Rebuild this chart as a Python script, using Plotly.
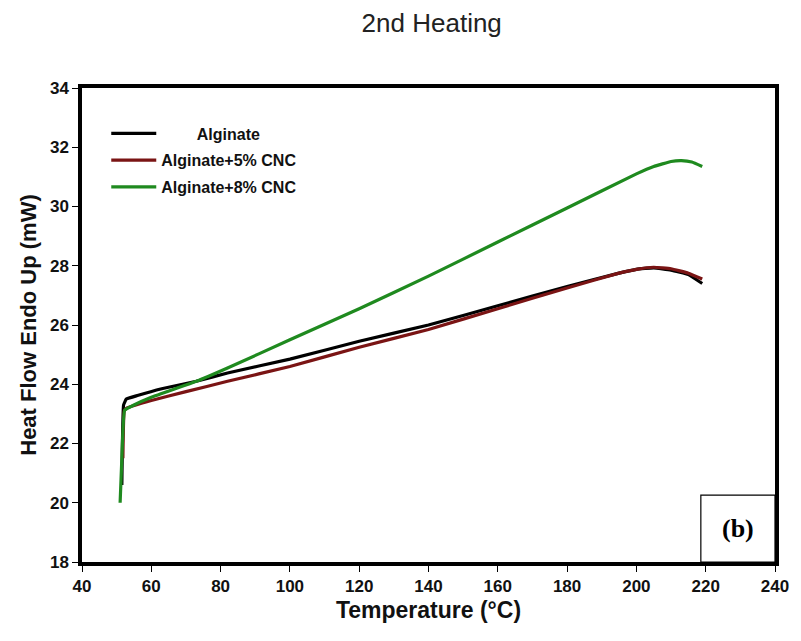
import plotly.graph_objects as go

# ---- data ----
alg_x = [51.5, 52.0, 52.8, 56, 63, 73, 82, 100, 120, 140, 160, 180, 195, 200, 205, 210, 215, 219]
alg_y = [20.6, 23.3, 23.5, 23.62, 23.85, 24.1, 24.38, 24.85, 25.45, 26.0, 26.65, 27.3, 27.75, 27.88, 27.93, 27.85, 27.7, 27.4]

cnc5_x = [51.8, 52.2, 53, 60, 70, 82, 100, 120, 140, 160, 180, 195, 200, 205, 210, 215, 219]
cnc5_y = [21.5, 23.1, 23.2, 23.45, 23.75, 24.1, 24.6, 25.25, 25.85, 26.55, 27.25, 27.75, 27.88, 27.95, 27.9, 27.75, 27.55]

cnc8_x = [51.0, 51.5, 52.3, 55, 60, 73, 82, 100, 120, 140, 160, 180, 200, 205, 210, 213, 216, 219]
cnc8_y = [20.0, 21.5, 23.12, 23.3, 23.56, 24.1, 24.55, 25.5, 26.55, 27.65, 28.8, 29.95, 31.1, 31.35, 31.52, 31.55, 31.5, 31.35]

series_names = ["\u00a0" * 8 + "Alginate", "Alginate+5% CNC", "Alginate+8% CNC"]
series_colors = ["#000000", "#7a1414", "#1f8a1f"]

x_ticks = [40, 60, 80, 100, 120, 140, 160, 180, 200, 220, 240]
y_ticks = [18, 20, 22, 24, 26, 28, 30, 32, 34]

fig = go.Figure()
for i, (xs, ys) in enumerate([(alg_x, alg_y), (cnc5_x, cnc5_y), (cnc8_x, cnc8_y)]):
    fig.add_trace(go.Scatter(
        x=xs, y=ys, mode="lines", name=series_names[i],
        line=dict(color=series_colors[i], width=3.2, shape="spline", smoothing=0.3),
        legendgroup=f"g{i}",
    ))

axis_font = dict(family="Liberation Sans, Arial", size=17, color="#111111", weight="bold")

fig.update_layout(
    width=801, height=641,
    margin=dict(l=82, r=19, t=88, b=79),
    paper_bgcolor="white", plot_bgcolor="white",
    title=dict(text="2nd Heating", x=0.539, xanchor="center", y=0.965, yanchor="middle",
               font=dict(family="Liberation Sans, Arial", size=26, color="#222222")),
    showlegend=True,
    legend=dict(x=0.035, y=0.94, xanchor="left", yanchor="top", bgcolor="rgba(0,0,0,0)",
                font=dict(family="Liberation Sans, Arial", size=16, color="#111111", weight="bold"),
                traceorder="grouped", tracegroupgap=3, itemwidth=45),
    xaxis=dict(range=[40, 240], tickvals=x_ticks, ticktext=[str(v) for v in x_ticks],
               showgrid=False, zeroline=False, showline=True, linecolor="black", linewidth=3.5,
               mirror=True, ticks="outside", ticklen=6, tickwidth=1.2, tickcolor="black",
               tickfont=axis_font,
               title=dict(text="Temperature (°C)",
                          font=dict(family="Liberation Sans, Arial", size=23, color="#111111", weight="bold"),
                          standoff=8)),
    yaxis=dict(range=[18, 34], tickvals=y_ticks, ticktext=[str(v) for v in y_ticks],
               showgrid=False, zeroline=False, showline=True, linecolor="black", linewidth=3.5,
               mirror=True, ticks="outside", ticklen=6, tickwidth=1.2, tickcolor="black",
               tickfont=axis_font,
               title=dict(text="Heat Flow Endo Up (mW)",
                          font=dict(family="Liberation Sans, Arial", size=22, color="#111111", weight="bold"),
                          standoff=8)),
    shapes=[dict(type="rect", xref="paper", yref="paper", x0=0.893, x1=1.0, y0=0.0, y1=0.141,
                 line=dict(color="black", width=1.2), fillcolor="white", layer="above")],
    annotations=[dict(text="(b)", xref="paper", yref="paper", x=0.946, y=0.07,
                      showarrow=False, xanchor="center", yanchor="middle",
                      font=dict(family="Liberation Serif, Times New Roman", size=26,
                                color="black", weight="bold"))],
)

fig.write_html("out.html")
